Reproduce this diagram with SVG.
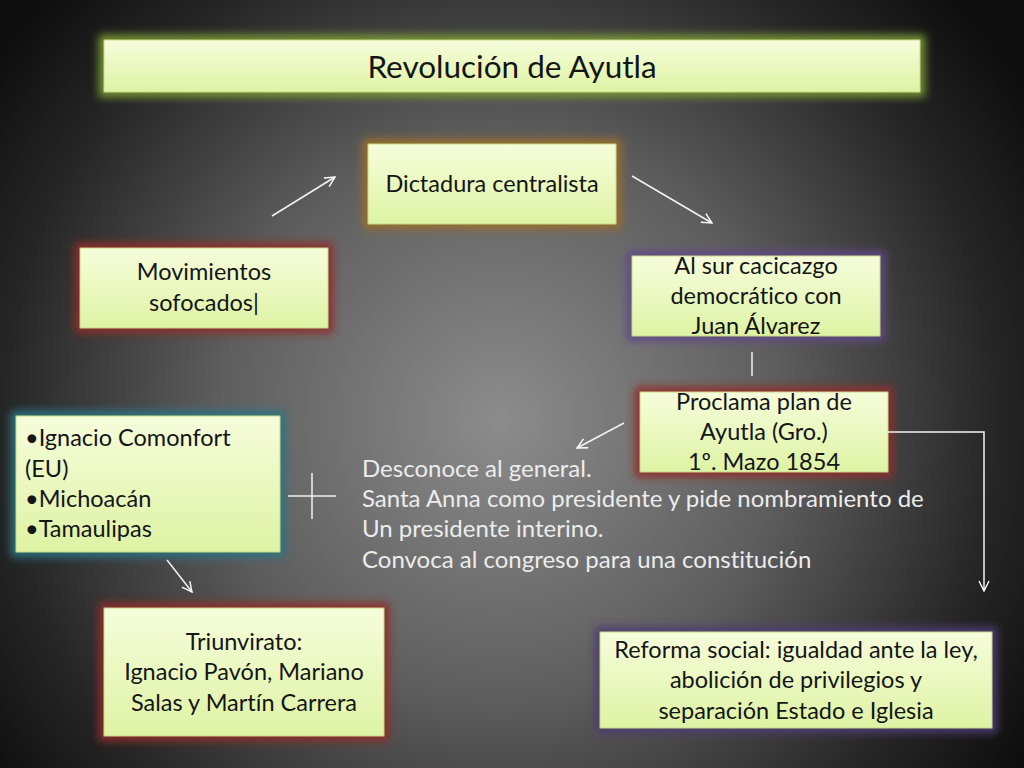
<svg xmlns="http://www.w3.org/2000/svg" width="1024" height="768" viewBox="0 0 1024 768">
<defs>
<radialGradient id="bg" cx="500" cy="420" r="620" gradientUnits="userSpaceOnUse">
<stop offset="0" stop-color="#8c8c8c"/>
<stop offset="0.45" stop-color="#5e5e5e"/>
<stop offset="0.8" stop-color="#262626"/>
<stop offset="1" stop-color="#0e0e0e"/>
</radialGradient>
<linearGradient id="fill" x1="0" y1="0" x2="0" y2="1">
<stop offset="0" stop-color="#f6fddb"/>
<stop offset="1" stop-color="#def3a4"/>
</linearGradient>
<filter id="glow" x="-20%" y="-40%" width="140%" height="180%">
<feGaussianBlur stdDeviation="4"/>
</filter>
<marker id="ah" viewBox="0 0 12 12" refX="11" refY="6" markerWidth="12" markerHeight="12" markerUnits="userSpaceOnUse" orient="auto">
<path d="M1,1 L11,6 L1,11" fill="none" stroke="#ffffff" stroke-width="1.4"/>
</marker>
<style>
.box{fill:url(#fill);stroke:#c9d98a;stroke-width:1}
.g{fill:none;stroke-width:10;filter:url(#glow)}
text{font-family:Lato,"Open Sans",sans-serif;font-size:23.5px;font-variant-ligatures:none}
.t{fill:#151515;text-anchor:middle}
.tl{fill:#151515}
.ft{fill:#ececec;font-size:24px}
.c{fill:none;stroke:#f2f2f2;stroke-width:1.5}
</style>
</defs>
<rect width="1024" height="768" fill="url(#bg)"/>

<g id="title">
<rect class="g" x="104" y="40" width="816" height="52" stroke="#7c9a34"/>
<rect class="box" x="104" y="40" width="816" height="52"/>
<text class="t" x="512" y="78" style="font-size:31.5px">Revolución de Ayutla</text>
</g>

<g id="dictadura">
<rect class="g" x="368" y="144" width="248" height="80" stroke="#9a6d2a"/>
<rect class="box" x="368" y="144" width="248" height="80"/>
<text class="t" x="492" y="192">Dictadura centralista</text>
</g>

<g id="movimientos">
<rect class="g" x="80" y="248" width="248" height="80" stroke="#922c2c"/>
<rect class="box" x="80" y="248" width="248" height="80"/>
<text class="t" x="204" y="280">Movimientos</text>
<text class="t" x="204" y="311">sofocados|</text>
</g>

<g id="alsur">
<rect class="g" x="632" y="256" width="248" height="80" stroke="#5e4a86"/>
<rect class="box" x="632" y="256" width="248" height="80"/>
<text class="t" x="756" y="274">Al sur cacicazgo</text>
<text class="t" x="756" y="304">democrático con</text>
<text class="t" x="756" y="334">Juan Álvarez</text>
</g>

<g id="proclama">
<rect class="g" x="640" y="392" width="248" height="80" stroke="#922c2c"/>
<rect class="box" x="640" y="392" width="248" height="80"/>
<text class="t" x="764" y="410">Proclama plan de</text>
<text class="t" x="764" y="440">Ayutla (Gro.)</text>
<text class="t" x="764" y="470">1º. Mazo 1854</text>
</g>

<g id="ignacio">
<rect class="g" x="16" y="416" width="264" height="136" stroke="#2b7482"/>
<rect class="box" x="16" y="416" width="264" height="136"/>
<text class="tl" x="25" y="446">•Ignacio Comonfort</text>
<text class="tl" x="25" y="477">(EU)</text>
<text class="tl" x="25" y="507">•Michoacán</text>
<text class="tl" x="25" y="537">•Tamaulipas</text>
</g>

<g id="triunvirato">
<rect class="g" x="104" y="608" width="280" height="128" stroke="#922c2c"/>
<rect class="box" x="104" y="608" width="280" height="128"/>
<text class="t" x="244" y="650">Triunvirato:</text>
<text class="t" x="244" y="680">Ignacio Pavón, Mariano</text>
<text class="t" x="244" y="711">Salas y Martín Carrera</text>
</g>

<g id="reforma">
<rect class="g" x="600" y="632" width="392" height="96" stroke="#4e3c72"/>
<rect class="box" x="600" y="632" width="392" height="96"/>
<text class="t" x="796" y="658">Reforma social: igualdad ante la ley,</text>
<text class="t" x="796" y="688">abolición de privilegios y</text>
<text class="t" x="796" y="719">separación Estado e Iglesia</text>
</g>

<g id="desconoce">
<text class="ft" x="362" y="477">Desconoce al general.</text>
<text class="ft" x="362" y="507">Santa Anna como presidente y pide nombramiento de</text>
<text class="ft" x="362" y="537">Un presidente interino.</text>
<text class="ft" x="362" y="568">Convoca al congreso para una constitución</text>
</g>

<g id="connectors">
<line class="c" x1="272" y1="216" x2="335" y2="177" marker-end="url(#ah)"/>
<line class="c" x1="632" y1="176" x2="712" y2="223" marker-end="url(#ah)"/>
<line class="c" x1="752" y1="352" x2="752" y2="376"/>
<line class="c" x1="624" y1="423" x2="577" y2="448" marker-end="url(#ah)"/>
<polyline class="c" points="888,432 984,432 984,591" marker-end="url(#ah)"/>
<line class="c" x1="288" y1="496" x2="336" y2="496"/>
<line class="c" x1="312" y1="473" x2="312" y2="519"/>
<line class="c" x1="167" y1="560" x2="192" y2="592" marker-end="url(#ah)"/>
</g>
</svg>
